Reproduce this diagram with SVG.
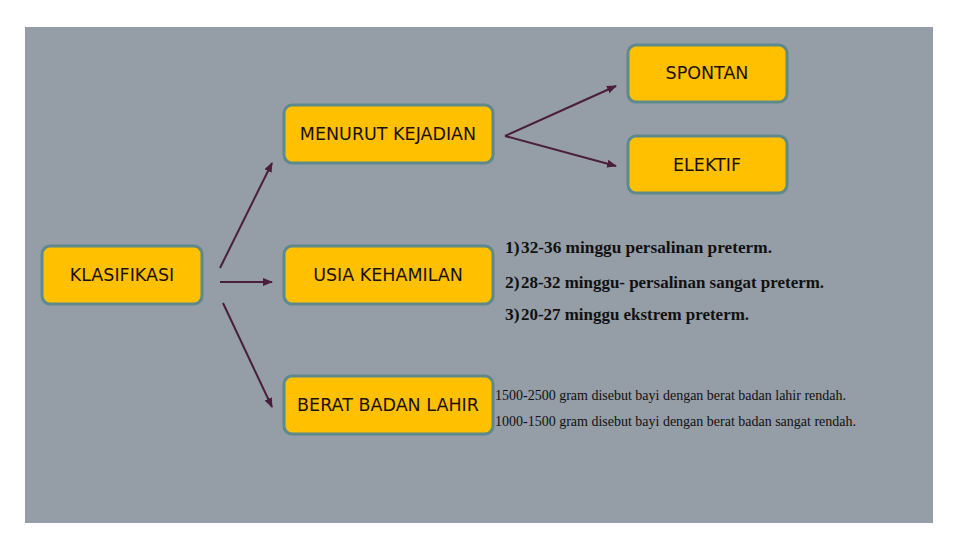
<svg xmlns="http://www.w3.org/2000/svg" width="960" height="540" viewBox="0 0 960 540">
<defs>
<style>
.box{fill:#FFC000;stroke:#5E8A8E;stroke-width:3}
.lbl{font-family:"DejaVu Sans","Liberation Sans",sans-serif;font-size:17.5px;fill:#1a1000;text-anchor:middle}
.con{stroke:#4A1E3C;stroke-width:2;fill:none;marker-end:url(#ah)}
.li{font-family:"Liberation Serif",serif;font-size:17.5px;font-weight:bold;fill:#111}
.sm{font-family:"Liberation Serif",serif;font-size:14px;fill:#111}
</style>
<marker id="ah" viewBox="0 0 10 10" refX="9" refY="5" markerWidth="5" markerHeight="5" orient="auto" markerUnits="strokeWidth">
<path d="M0,1 L10,5 L0,9 z" fill="#4A1E3C"/>
</marker>
</defs>
<rect x="0" y="0" width="960" height="540" fill="#ffffff"/>
<rect x="25" y="27" width="908" height="496" fill="#959DA6"/>
<g id="connectors">
<line class="con" x1="220" y1="268" x2="272" y2="163"/>
<line class="con" x1="220" y1="282" x2="272" y2="282"/>
<line class="con" x1="223" y1="303" x2="272" y2="407"/>
<line class="con" x1="505" y1="136" x2="616" y2="86"/>
<line class="con" x1="505" y1="136" x2="616" y2="166"/>
</g>
<g id="spontan"><rect class="box" x="628" y="45" width="159" height="57" rx="8"/><text class="lbl" x="707" y="79">SPONTAN</text></g>
<g id="elektif"><rect class="box" x="628" y="136" width="159" height="57" rx="8"/><text class="lbl" x="707" y="171">ELEKTIF</text></g>
<g id="menurut"><rect class="box" x="284" y="105" width="209" height="58" rx="8"/><text class="lbl" x="388" y="140">MENURUT KEJADIAN</text></g>
<g id="klasifikasi"><rect class="box" x="42" y="246" width="160" height="58" rx="8"/><text class="lbl" x="122" y="281">KLASIFIKASI</text></g>
<g id="usia"><rect class="box" x="284" y="246" width="209" height="58" rx="8"/><text class="lbl" x="388" y="281">USIA KEHAMILAN</text></g>
<g id="berat"><rect class="box" x="284" y="376" width="209" height="58" rx="8"/><text class="lbl" x="388" y="411">BERAT BADAN LAHIR</text></g>
<g id="usia-notes">
<text class="li" x="505" y="253">1)</text><text class="li" x="521" y="253" textLength="251" lengthAdjust="spacingAndGlyphs">32-36 minggu  persalinan preterm.</text>
<text class="li" x="505" y="288">2)</text><text class="li" x="521" y="288" textLength="303" lengthAdjust="spacingAndGlyphs">28-32 minggu- persalinan sangat preterm.</text>
<text class="li" x="505" y="320">3)</text><text class="li" x="521" y="320" textLength="228" lengthAdjust="spacingAndGlyphs">20-27 minggu ekstrem preterm.</text>
</g>
<g id="berat-notes">
<text class="sm" x="495" y="400" textLength="351" lengthAdjust="spacingAndGlyphs">1500-2500 gram disebut bayi dengan berat badan lahir rendah.</text>
<text class="sm" x="495" y="426" textLength="361" lengthAdjust="spacingAndGlyphs">1000-1500 gram disebut bayi dengan berat badan sangat rendah.</text>
</g>
</svg>
